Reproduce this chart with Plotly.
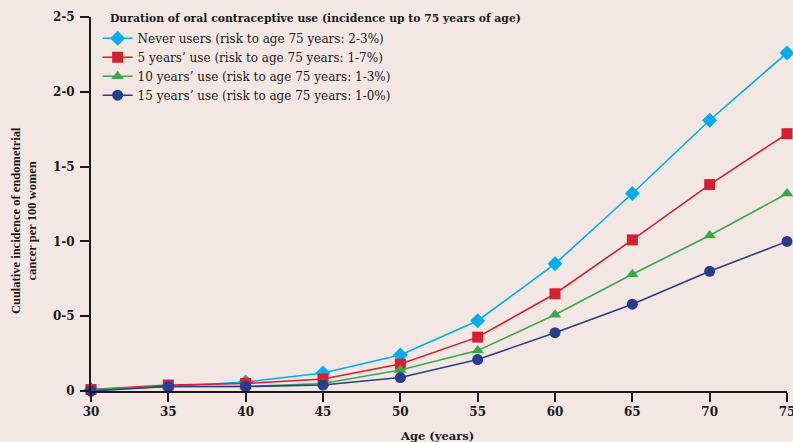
import plotly.graph_objects as go

ages = [30, 35, 40, 45, 50, 55, 60, 65, 70, 75]
never_users = [0.01, 0.03, 0.06, 0.12, 0.24, 0.47, 0.85, 1.32, 1.81, 2.26]
use_5y = [0.01, 0.04, 0.05, 0.08, 0.18, 0.36, 0.65, 1.01, 1.38, 1.72]
use_10y = [0.01, 0.03, 0.03, 0.05, 0.14, 0.27, 0.51, 0.78, 1.04, 1.32]
use_15y = [0.00, 0.03, 0.03, 0.04, 0.09, 0.21, 0.39, 0.58, 0.80, 1.00]

series_names = [
    "Never users (risk to age 75 years: 2-3%)",
    "5 years’ use (risk to age 75 years: 1-7%)",
    "10 years’ use (risk to age 75 years: 1-3%)",
    "15 years’ use (risk to age 75 years: 1-0%)",
]
legend_title = "Duration of oral contraceptive use (incidence up to 75 years of age)"
y_tick_vals = [0, 0.5, 1.0, 1.5, 2.0, 2.5]
y_tick_text = ["0", "0-5", "1-0", "1-5", "2-0", "2-5"]

colors = ["#00aeef", "#d7202f", "#3aaa48", "#263d90"]
symbols = ["diamond", "square", "triangle-up", "circle"]
sizes = [11.5, 11, 11, 11]

SERIF = "DejaVu Serif"
TNR = "Liberation Serif"
INK = "#1a1a1a"
fig = go.Figure()
for name, vals, c, s, sz in zip(series_names, [never_users, use_5y, use_10y, use_15y], colors, symbols, sizes):
    fig.add_trace(go.Scatter(
        x=ages, y=vals, name=name, mode="lines+markers",
        line=dict(color=c, width=1.6),
        marker=dict(color=c, symbol=s, size=sz, line=dict(width=0)),
        cliponaxis=False,
    ))

bg = "#f2e7e3"
fig.update_layout(
    width=793, height=442,
    paper_bgcolor=bg, plot_bgcolor=bg,
    margin=dict(l=91, r=6, t=17, b=51),
    font=dict(family=SERIF, size=12, color=INK),
    legend=dict(
        x=0.0095, y=0.982, xanchor="left", yanchor="top",
        bgcolor="rgba(0,0,0,0)",
        font=dict(family=SERIF, size=12, color=INK),
        itemwidth=30, tracegroupgap=0,
    ),
    xaxis=dict(
        range=[30, 75], tickvals=ages, showgrid=False, zeroline=False, automargin=False,
        showline=True, linecolor=INK, linewidth=2,
        ticks="outside", ticklen=9, tickwidth=2, tickcolor=INK,
        ticklabelstandoff=0, ticklabeloverflow="allow",
        tickfont=dict(family=SERIF, size=12, color=INK, weight="bold"),
    ),
    yaxis=dict(
        range=[0, 2.5], tickvals=y_tick_vals, ticktext=y_tick_text,
        showgrid=False, zeroline=False, automargin=False,
        showline=True, linecolor=INK, linewidth=2,
        ticks="outside", ticklen=9, tickwidth=2, tickcolor=INK,
        ticklabelstandoff=3,
        tickfont=dict(family=SERIF, size=12, color=INK, weight="bold"),
    ),
    annotations=[
        dict(text="<b>" + legend_title + "</b>", xref="paper", yref="paper",
             x=(108 - 91) / 696, y=(391 - 18) / 374,
             xanchor="left", yanchor="middle", showarrow=False,
             font=dict(family=SERIF, size=10.8, color=INK)),
        dict(text="<b>Age (years)</b>", xref="paper", yref="paper", x=0.497, y=-0.12,
             xanchor="center", yanchor="middle", showarrow=False,
             font=dict(family=SERIF, size=11.5, color=INK)),
        dict(text="<b>Cuulative incidence of endometrial<br>cancer per 100 women</b>",
             xref="paper", yref="paper", x=-0.0963, y=0.457, textangle=-90,
             xanchor="center", yanchor="middle", showarrow=False,
             font=dict(family=TNR, size=12.5, color=INK)),
    ],
)
fig.write_html("out.html", config={"displayModeBar": False},
               post_script="document.body.style.margin='0px';")
